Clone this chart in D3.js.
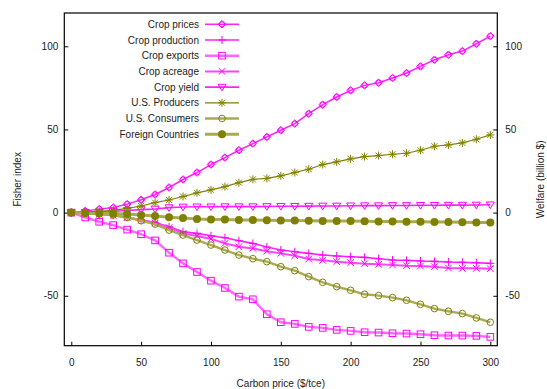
<!DOCTYPE html>
<html><head><meta charset="utf-8">
<script src="https://cdn.jsdelivr.net/npm/d3@7"></script>
<style>
body{margin:0;background:#fff;}
svg{display:block;font-family:"Liberation Sans",Arial,Helvetica,sans-serif;}
</style></head>
<body>
<svg id="chart" width="547" height="389"></svg>
<script>
const carbonPrice = d3.range(0, 301, 10);
const seriesNames = ["Crop prices","Crop production","Crop exports","Crop acreage","Crop yield","U.S. Producers","U.S. Consumers","Foreign Countries"];
const cropPrices = [0,1.0,2.1,3.1,5.1,7.7,10.9,15.1,19.9,24.1,28.9,33.1,37.5,41.5,45.5,49.5,53.5,59.5,64.9,69.5,73.5,76.5,78.1,80.9,83.9,87.9,91.9,94.9,97.1,101.5,106.1];
const cropProduction = [0,-0.3,-0.8,-1.6,-2.8,-4.3,-6.0,-8.5,-11.5,-12.5,-13.9,-15.1,-16.9,-18.5,-20.7,-22.5,-23.5,-24.5,-25.5,-26.1,-26.5,-26.9,-27.7,-28.5,-28.7,-29.1,-29.3,-29.7,-29.9,-30.1,-30.5];
const cropExports = [0,-2.9,-5.5,-7.5,-10.2,-13.0,-16.7,-24.1,-30.5,-35.7,-40.9,-45.3,-50.5,-52.1,-61.1,-65.9,-66.9,-68.7,-69.3,-70.5,-71.1,-71.9,-72.1,-72.5,-72.7,-73.1,-73.7,-73.9,-73.9,-74.1,-74.7];
const cropAcreage = [0,-0.3,-0.9,-1.7,-3.0,-4.5,-6.3,-9.0,-12.5,-14.1,-15.8,-18.5,-20.5,-21.5,-23.2,-24.5,-25.9,-27.9,-28.7,-29.5,-30.1,-30.7,-31.1,-31.5,-31.9,-32.1,-32.5,-33.3,-33.5,-33.5,-33.7];
const cropYield = [0,0.2,0.4,0.8,1.3,1.8,2.2,3.0,3.4,3.5,3.5,3.6,3.6,3.6,3.7,3.8,3.8,3.9,4.0,4.0,4.1,4.2,4.2,4.3,4.3,4.4,4.4,4.5,4.5,4.6,4.7];
const usProducers = [0,0.4,0.8,1.3,2.5,4.0,6.0,7.6,9.7,11.9,13.7,15.6,18.0,20.0,20.6,22.1,24.1,26.1,28.9,30.5,32.3,33.7,34.3,35.1,35.7,37.5,39.9,40.7,41.9,44.1,46.7];
const usConsumers = [0,-0.3,-0.8,-1.5,-2.9,-4.9,-6.9,-10.5,-13.5,-16.5,-19.5,-22.5,-25.5,-27.7,-29.5,-32.5,-34.9,-38.5,-41.9,-44.5,-46.7,-49.1,-49.9,-51.1,-52.7,-55.1,-57.7,-59.3,-60.7,-63.3,-65.9];
const foreignCountries = [0,-0.4,-0.5,-0.6,-0.9,-1.5,-2.1,-2.8,-3.3,-3.8,-4.1,-4.2,-4.4,-4.5,-4.6,-4.7,-4.8,-4.9,-5.0,-5.0,-5.1,-5.2,-5.3,-5.4,-5.5,-5.5,-5.6,-5.7,-5.8,-5.9,-6.0];
const xTicks = [0,50,100,150,200,250,300];
const yTicks = [-50,0,50,100];

const seriesValues = [cropPrices,cropProduction,cropExports,cropAcreage,cropYield,usProducers,usConsumers,foreignCountries];
// styles (separate from data)
const styles = [
  {marker:"diamond", color:"#ff00ff", line:"#ff22ff", lw:1.5},
  {marker:"plus", color:"#ff00ff", line:"#ff22ff", lw:1.6},
  {marker:"square", color:"#ff00ff", line:"#ff66ff", lw:2.4},
  {marker:"cross", color:"#ff00ff", line:"#ff44ff", lw:2.0},
  {marker:"triangle", color:"#ff00ff", line:"#ff22ff", lw:1.6},
  {marker:"star", color:"#808000", line:"#808000", lw:1.2},
  {marker:"circle", color:"#808000", line:"#aaaa55", lw:2.4},
  {marker:"dot", color:"#808000", line:"#aaaa55", lw:3.0}
];

const svg = d3.select("#chart");
const L = 64.3, R = 497.3, T = 13, B = 345.7;
const x = d3.scaleLinear().domain([-5,305]).range([L,R]);
const y = d3.scaleLinear().domain([-80,120]).range([B,T]);
const fmt = d => String(d); // plain hyphen-minus like the reference

function drawMarker(g, type, cx, cy, color){
  const s = g.append("g").attr("transform",`translate(${cx},${cy})`)
    .attr("fill","none").attr("stroke",color).attr("stroke-width",1);
  if(type==="diamond"){
    s.append("path").attr("d","M0,-3.8L3.8,0L0,3.8L-3.8,0Z");
    s.append("circle").attr("r",2.6);
  } else if(type==="plus"){
    s.append("path").attr("d","M-4,0H4M0,-4V4");
  } else if(type==="square"){
    s.append("rect").attr("x",-3.3).attr("y",-3.3).attr("width",6.6).attr("height",6.6);
  } else if(type==="cross"){
    s.append("path").attr("d","M-3.3,-3.3L3.3,3.3M-3.3,3.3L3.3,-3.3");
  } else if(type==="triangle"){
    s.append("path").attr("d","M-4,-2.8L4,-2.8L0,3.8Z");
  } else if(type==="star"){
    s.append("path").attr("d","M-4,0H4M0,-4V4M-3,-3L3,3M-3,3L3,-3");
  } else if(type==="circle"){
    s.append("circle").attr("r",3.3);
  } else if(type==="dot"){
    s.append("circle").attr("r",4).attr("fill",color).attr("stroke","none");
  }
}

// axes
const fontSize = "10px";
const leftAxis = svg.append("g").attr("transform",`translate(${L},0)`)
  .call(d3.axisLeft(y).tickValues(yTicks).tickSize(-4).tickPadding(6).tickFormat(fmt));
const rightAxis = svg.append("g").attr("transform",`translate(${R},0)`)
  .call(d3.axisRight(y).tickValues(yTicks).tickSize(-4).tickPadding(8).tickFormat(fmt));
const bottomAxis = svg.append("g").attr("transform",`translate(0,${B})`)
  .call(d3.axisBottom(x).tickValues(xTicks).tickSize(-4).tickPadding(13).tickFormat(fmt));
[leftAxis,rightAxis,bottomAxis].forEach(a=>{
  a.select(".domain").remove();
  a.selectAll("text").attr("font-size",fontSize).attr("fill","#222").attr("font-family","Liberation Sans, Arial, sans-serif");
  a.selectAll("line").attr("stroke","#000");
});

// series
const lineGen = d3.line().x((d,i)=>x(carbonPrice[i])).y(d=>y(d));
const plot = svg.append("g");
seriesValues.forEach((vals,k)=>{
  const st = styles[k];
  plot.append("path").datum(vals).attr("d",lineGen)
    .attr("fill","none").attr("stroke",st.line).attr("stroke-width",st.lw).attr("stroke-linejoin","round");
  vals.forEach((v,i)=>drawMarker(plot, st.marker, x(carbonPrice[i]), y(v), st.color));
});

// border
svg.append("rect").attr("x",L).attr("y",T).attr("width",R-L).attr("height",B-T)
  .attr("fill","none").attr("stroke","#000").attr("stroke-width",1.2);

// legend
const lg = svg.append("g");
seriesNames.forEach((name,k)=>{
  const st = styles[k];
  const ly = 24.3 + k*15.7;
  lg.append("text").attr("x",199).attr("y",ly).attr("dy","0.35em").attr("text-anchor","end")
    .attr("font-size",fontSize).attr("fill","#222").text(name);
  lg.append("line").attr("x1",205).attr("x2",239).attr("y1",ly).attr("y2",ly)
    .attr("stroke",st.line).attr("stroke-width",st.lw);
  drawMarker(lg, st.marker, 222, ly, st.color);
});

// axis titles
svg.append("text").attr("transform",`translate(21,${(T+B)/2}) rotate(-90)`).attr("text-anchor","middle")
  .attr("font-size",fontSize).attr("fill","#222").text("Fisher index");
svg.append("text").attr("transform",`translate(544,${(T+B)/2}) rotate(-90)`).attr("text-anchor","middle")
  .attr("font-size",fontSize).attr("fill","#222").text("Welfare (billion $)");
svg.append("text").attr("x",(L+R)/2).attr("y",386.5).attr("text-anchor","middle")
  .attr("font-size",fontSize).attr("fill","#222").text("Carbon price ($/tce)");
</script>
</body></html>
